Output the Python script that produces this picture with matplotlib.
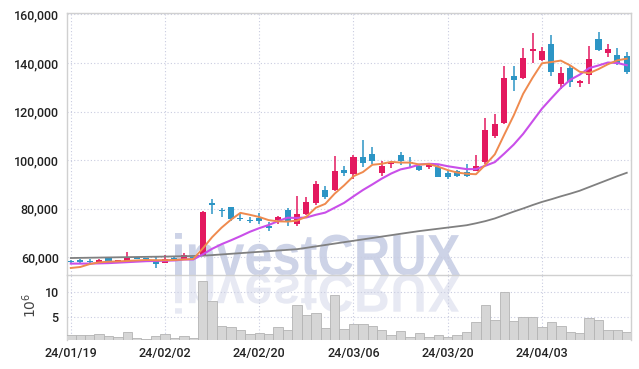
import numpy as np
import matplotlib
matplotlib.use("Agg")
import matplotlib.pyplot as plt
import matplotlib.ticker as ticker
import matplotlib.transforms as mtransforms
from matplotlib.textpath import TextPath
from matplotlib.patches import PathPatch
from matplotlib.font_manager import FontProperties

# daily candles (KRW), 60 trading days from 24/01/19
opens = [58500, 59000, 58200, 58200, 59700, 57700, 58500, 60000, 59500, 58500,
         57800, 59800, 59400, 60000, 61000, 82500, 79600, 80600, 76200, 75300,
         76200, 73000, 75300, 79400, 73900, 77800, 82200, 87800, 87800, 95900,
         94300, 101500, 102500, 94600, 98400, 102300, 99100, 97500, 97000, 97000,
         94600, 95400, 95000, 95700, 99100, 110100, 115200, 134500, 133800, 144900,
         141300, 147800, 131400, 137900, 131700, 134900, 149700, 144000, 143100, 142700]
highs = [58900, 59300, 59300, 59300, 59900, 59000, 62000, 60300, 59800, 60400,
         60800, 60000, 61700, 60300, 78900, 84000, 80500, 80800, 78100, 76700,
         78100, 74400, 77100, 80300, 85200, 84700, 91500, 89200, 101900, 97700,
         102300, 108100, 105300, 99800, 99800, 103200, 101200, 97800, 98900, 98100,
         95400, 96000, 98400, 102100, 117400, 119100, 138700, 138700, 146100, 152300,
         146800, 151400, 138300, 139000, 132900, 147200, 152700, 147700, 146300, 144500]
lows = [57300, 57400, 56900, 58000, 57300, 57500, 58300, 59200, 59100, 55700,
        57600, 59000, 58700, 59300, 60800, 77800, 76700, 74800, 74800, 74000,
        73900, 70900, 73700, 73000, 72700, 77500, 81600, 84000, 87400, 93600,
        92200, 97000, 98400, 93600, 96600, 98200, 97000, 95700, 96300, 92900,
        92200, 92900, 93200, 95600, 98400, 109100, 114900, 128500, 133500, 140000,
        140800, 134800, 129400, 130300, 130000, 131400, 145000, 142300, 139300, 135500]
closes = [57900, 57900, 57900, 59000, 57500, 58800, 59900, 59400, 59400, 57100,
          59200, 59200, 61100, 59600, 78800, 81400, 78900, 75700, 75700, 75000,
          74800, 71900, 76700, 74400, 77800, 82900, 90100, 84700, 95700, 94900,
          101500, 98700, 99800, 97700, 98800, 99800, 98700, 96100, 98700, 93200,
          92900, 93600, 93600, 97700, 112600, 114700, 133900, 133200, 142200, 145600,
          144800, 136400, 135800, 132100, 132800, 141700, 145200, 145800, 140000, 136300]

# moving averages as drawn on the chart
ma_short = [55600, 56000, 57200, 57900, 58200, 58300, 58500, 58700, 58900, 58800,
            58800, 58900, 59100, 59300, 63600, 68300, 72200, 75500, 78300, 77500,
            76600, 75300, 74800, 74700, 75100, 76700, 80400, 82000, 86200, 89600,
            93400, 95100, 98100, 98500, 99300, 99000, 99000, 98200, 98400, 97300,
            95900, 94900, 94400, 94200, 98100, 102400, 110500, 118400, 127300, 133900,
            139900, 140400, 141000, 139000, 136400, 135800, 137500, 139500, 141100, 141800]
ma_mid = [57400, 57400, 57400, 57500, 57600, 57800, 58000, 58200, 58400, 58500,
          58600, 58700, 59100, 59100, 61200, 63500, 65400, 67000, 68700, 70500,
          72000, 73300, 74900, 76300, 76200, 76400, 77500, 78400, 80400, 82400,
          85100, 87700, 90000, 92400, 94500, 96200, 97000, 98200, 98500, 98300,
          97500, 96900, 96300, 96300, 97700, 99200, 102700, 106400, 110800, 116000,
          121200, 125500, 129700, 133100, 135200, 137900, 139000, 140200, 140000, 139100]
ma_long = [59700, 59760, 59820, 59880, 59940, 60000, 60060, 60120, 60180, 60240,
           60300, 60380, 60460, 60540, 60640, 60900, 61170, 61440, 61710, 61980,
           62250, 62520, 62790, 63060, 63330, 63900, 64480, 65060, 65640, 66220,
           66800, 67370, 67950, 68530, 69100, 69680, 70250, 70800, 71280, 71760,
           72240, 72720, 73200, 74000, 74900, 76000, 77400, 78800, 80100, 81500,
           82800, 83900, 85100, 86200, 87400, 88900, 90400, 91900, 93400, 94800]

# volume in millions
volume = [1.4, 1.4, 1.4, 1.6, 1.2, 1.0, 2.0, 0.8, 0.7, 1.2,
          1.6, 0.8, 1.2, 0.8, 12.2, 8.3, 3.2, 3.0, 2.4, 1.7,
          1.8, 1.7, 3.0, 2.4, 7.4, 5.4, 5.8, 2.8, 9.5, 2.6,
          3.7, 3.7, 3.3, 2.5, 1.4, 2.3, 1.0, 1.8, 1.0, 1.4,
          1.0, 1.4, 2.1, 4.1, 7.5, 4.5, 10.1, 4.3, 5.0, 5.0,
          3.0, 4.1, 3.3, 2.1, 1.9, 4.8, 4.5, 2.5, 2.5, 2.1]

tick_pos = [0, 10, 20, 30, 40, 50]
tick_labels = ["24/01/19", "24/02/02", "24/02/20", "24/03/06", "24/03/20", "24/04/03"]

RED = "#e3195f"
BLUE = "#2c95c5"
GRID = "#c9cce0"
SPINE = "#d0d0d0"
TXT = "#222222"
FONT = ["Roboto", "DejaVu Sans"]

o = np.array(opens, float)
h = np.array(highs, float)
l = np.array(lows, float)
c = np.array(closes, float)
x = np.arange(len(c))

fig = plt.figure(figsize=(6.39, 3.69), dpi=100)
fig.patch.set_facecolor("white")
ax = fig.add_axes([0.1049, 0.2547, 0.8826, 0.7114])
axv = fig.add_axes([0.1049, 0.0786, 0.8826, 0.1761], sharex=ax)
for a in (ax, axv):
    a.set_facecolor("none")

# watermark with reflection (figure pixel coords)
fp = FontProperties(family=["Liberation Sans"], weight="bold")
tp = TextPath((0, 0), "investCRUX", size=100, prop=fp)
ext = tp.get_extents()
sx = 285.0 / ext.width
sy = 42.0 / ext.y1
base_y = 369 - 275
wm = mtransforms.Affine2D().translate(-ext.x0, 0).scale(sx, sy).translate(175, base_y)
fig.add_artist(PathPatch(tp, transform=wm, facecolor="#cdd3e7", edgecolor="none", zorder=-2))
wm_r = mtransforms.Affine2D().translate(-ext.x0, 0).scale(sx, -sy * 0.92).translate(175, base_y)
fig.add_artist(PathPatch(tp, transform=wm_r, facecolor="#e7e9f3", edgecolor="none", zorder=-2))

# candles
up = c >= o
cols = np.where(up, RED, BLUE)
ax.vlines(x, l, h, colors=cols, linewidth=1.1, zorder=3)
body_bot = np.minimum(o, c)
body_h = np.maximum(np.abs(c - o), 400)
ax.bar(x, body_h, width=0.64, bottom=body_bot, color=cols, linewidth=0, zorder=4)

# moving averages
ax.plot(x, ma_long, color="#808080", linewidth=1.3, zorder=5)
ax.plot(x, ma_mid, color="#c94fe9", linewidth=1.5, zorder=5)
ax.plot(x, ma_short, color="#ef8a4e", linewidth=1.4, zorder=5)

ax.set_ylim(52700, 160800)
ax.set_xlim(-0.4, 59.45)
ax.yaxis.set_major_locator(ticker.MultipleLocator(20000))
ax.yaxis.set_major_formatter(ticker.FuncFormatter(lambda v, _: f"{v:,.0f}"))

# volume
axv.bar(x, volume, width=1.0, color="#d6d6d6", edgecolor="#b4b4b4", linewidth=0.6, zorder=3)
axv.set_ylim(0.45, 13.45)
axv.set_yticks([5, 10])
axv.set_xticks(tick_pos)
axv.set_xticklabels(tick_labels)
fig.text(30 / 639, 1 - 305 / 369, r"$10^6$", rotation=90, ha="center", va="center",
         fontsize=10, color="#444444")

for a in (ax, axv):
    a.grid(True, linestyle=(0, (1, 2)), color=GRID, linewidth=0.8, zorder=0)
    a.tick_params(length=0, colors=TXT, labelsize=9, pad=6)
    for lab in a.get_xticklabels() + a.get_yticklabels():
        lab.set_family(FONT)
        lab.set_weight("medium")
    for s in a.spines.values():
        s.set_color(SPINE)
        s.set_linewidth(1.0)
axv.spines["bottom"].set_visible(False)
ax.spines["bottom"].set_visible(False)
plt.setp(ax.get_xticklabels(), visible=False)
axv.tick_params(axis="x", pad=5)

fig.savefig("out.png", dpi=100)
